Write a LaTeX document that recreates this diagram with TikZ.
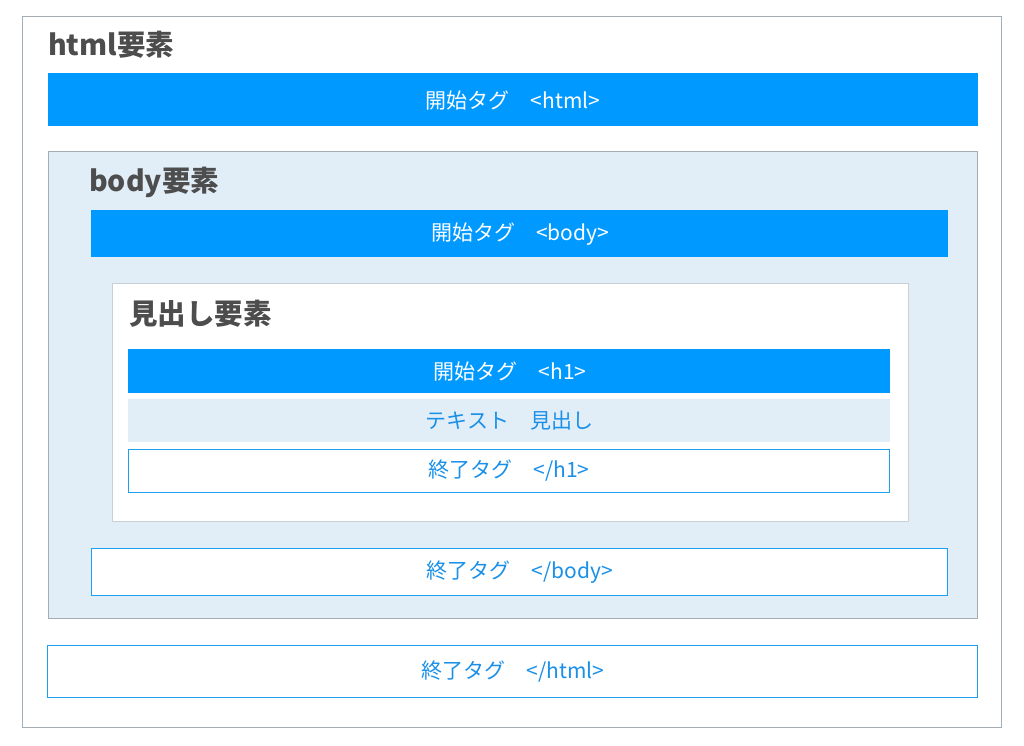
\documentclass[tikz,border=0pt]{standalone}
\usepackage{fontspec}
\setmainfont{Noto Sans CJK JP}
\newfontfamily\cjk{Noto Sans CJK JP}
\definecolor{tagblue}{HTML}{0099FF}
\definecolor{paleblue}{HTML}{E1EEF8}
\definecolor{framegray}{HTML}{A3ADB5}
\definecolor{lightgray}{HTML}{C9D1D8}
\definecolor{titlegray}{HTML}{4D4D4D}
\definecolor{textblue}{HTML}{1A90E8}
\definecolor{lineblue}{HTML}{1EA0F2}
\begin{document}
\begin{tikzpicture}[x=1pt,y=-1pt,
  title/.style={anchor=west,inner sep=0pt,font=\cjk\bfseries\fontsize{28.5}{32}\selectfont,text=titlegray},
  lbl/.style={inner sep=0pt,font=\cjk\fontsize{21}{24}\selectfont},
  openbar/.style={fill=tagblue},
  closebar/.style={draw=lineblue,line width=1.1pt,fill=white}]
\useasboundingbox (0,0) rectangle (1024,745);
\fill[white] (0,0) rectangle (1024,745);
% html element
\draw[framegray,line width=1pt,fill=white] (22.5,16.5) rectangle (1001.5,727.5);
\node[title] (htmlt) at (48,45) {html要素};
\fill[openbar] (48,73) rectangle (978,126);
\node[lbl,text=white] (htmlo) at (513,101) {開始タグ　<html>};
% body element
\draw[framegray,line width=1pt,fill=paleblue] (48.5,151.5) rectangle (977.5,618.5);
\node[title] (bodyt) at (89,182) {body要素};
\fill[openbar] (91,210) rectangle (948,257);
\node[lbl,text=white] (bodyo) at (520,234) {開始タグ　<body>};
% h1 element
\draw[lightgray,line width=1pt,fill=white] (112.5,283.5) rectangle (908.5,521.5);
\node[title] (h1t) at (129,314) {見出し要素};
\fill[openbar] (128,349) rectangle (890,393);
\node[lbl,text=white] (h1o) at (510,372) {開始タグ　<h1>};
\fill[paleblue] (128,399) rectangle (890,442);
\node[lbl,text=textblue] (h1x) at (509.5,421) {テキスト　見出し};
\draw[closebar] (128.5,449.5) rectangle (889.5,492.5);
\node[lbl,text=textblue] (h1c) at (509,471) {終了タグ　</h1>};
% body close
\draw[closebar] (91.5,548.5) rectangle (947.5,595.5);
\node[lbl,text=textblue] (bodyc) at (520,572) {終了タグ　</body>};
% html close
\draw[closebar] (47.5,645.5) rectangle (977.5,697.5);
\node[lbl,text=textblue] (htmlc) at (513,672) {終了タグ　</html>};
\end{tikzpicture}
\end{document}
